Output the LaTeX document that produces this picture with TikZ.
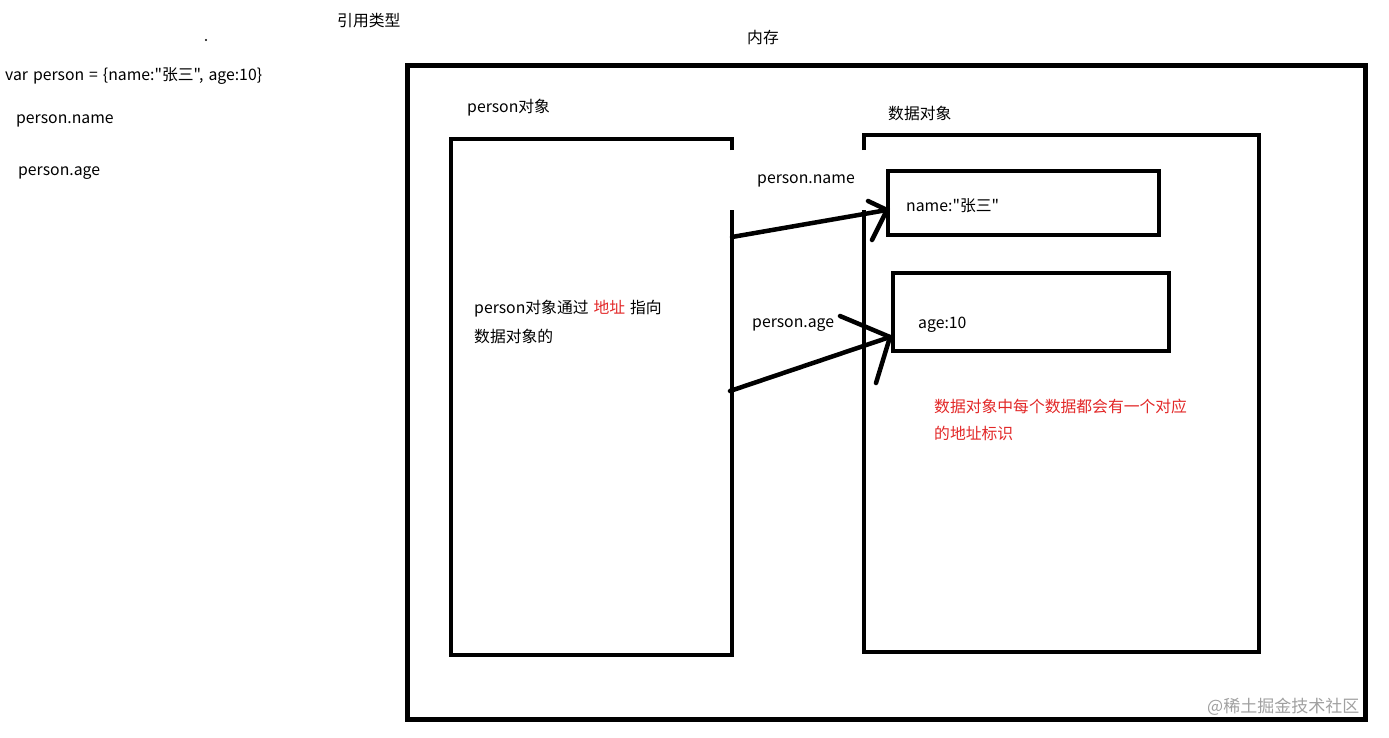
\documentclass[tikz,border=0pt]{standalone}
\usepackage{fontspec}
\setmainfont[WordSpace=1.4]{Noto Sans CJK SC}
\newfontfamily\rawfont[WordSpace=1.4]{Noto Sans CJK SC}
\usepackage{tikz}
\usetikzlibrary{positioning,calc}
\definecolor{markred}{RGB}{226,40,40}
\definecolor{markgray}{RGB}{160,160,160}

\begin{document}
\begin{tikzpicture}[
    x=1pt, y=-1pt,
    txt/.style={anchor=west, inner sep=0pt, font=\rawfont\fontsize{15.8}{19}\selectfont},
    note/.style={txt, text=markred},
    frame/.style={draw, line width=4.5pt},
    cell/.style={draw, line width=4pt, rectangle, inner sep=0pt},
    arr/.style={line width=4.5pt, line cap=round}
  ]
  \useasboundingbox (0,0) rectangle (1389,737);

  % left column: the code
  \node[txt] (title) at (337,21) {引用类型};
  \fill (206,40) circle (1.2pt);
  \node[txt] (decl) at (5,76) {var person = \{name:"张三", age:10\}};
  \node[txt] (getname) at (16,121) {person.name};
  \node[txt] (getage) at (18,173) {person.age};

  % memory
  \node[txt] (mem) at (747,38) {内存};
  \draw[line width=5pt] (407,65) rectangle (1365,719);

  \node[txt] (objlabel) at (467,108) {person对象};
  \draw[frame] (732,150) -- (732,139) -- (451,139) -- (451,655) -- (732,655) -- (732,210);

  \node[txt] (datalabel) at (888,113) {数据对象};
  \draw[frame] (864,150) -- (864,135) -- (1259,135) -- (1259,652) -- (864,652) -- (864,210);

  \node[cell, minimum width=271pt, minimum height=64pt] (namebox) at (1023.5,203) {};
  \node[txt] (nametxt) at (906,206) {name:"张三"};
  \node[cell, minimum width=276pt, minimum height=78pt] (agebox) at (1031,312) {};
  \node[txt] (agetxt) at (918,325) {age:10};

  \node[txt] (via1) at (474,309) {person对象通过 \textcolor{markred}{地址} 指向};
  \node[txt] (via2) at (474,336) {数据对象的};

  \node[txt] (refname) at (757,181) {person.name};
  \node[txt] (refage) at (752,325) {person.age};

  % hand drawn arrows
  \coordinate (s1) at (732,237);
  \coordinate (t1) at (887,210);
  \coordinate (s2) at (730,391);
  \coordinate (t2) at (890,337);
  \draw[arr] (s1) -- (t1);
  \draw[arr] (868,201) -- (t1) -- (872,240);
  \draw[arr] (s2) -- (t2);
  \draw[arr] (840,316) -- (t2) -- (876,383);

  \node[note] (remark1) at (934,406) {数据对象中每个数据都会有一个对应};
  \node[note] (remark2) at (934,433) {的地址标识};

  \node[txt, text=markgray, font=\rawfont\fontsize{17}{20}\selectfont] (mark) at (1207,707) {@稀土掘金技术社区};
\end{tikzpicture}
\end{document}
